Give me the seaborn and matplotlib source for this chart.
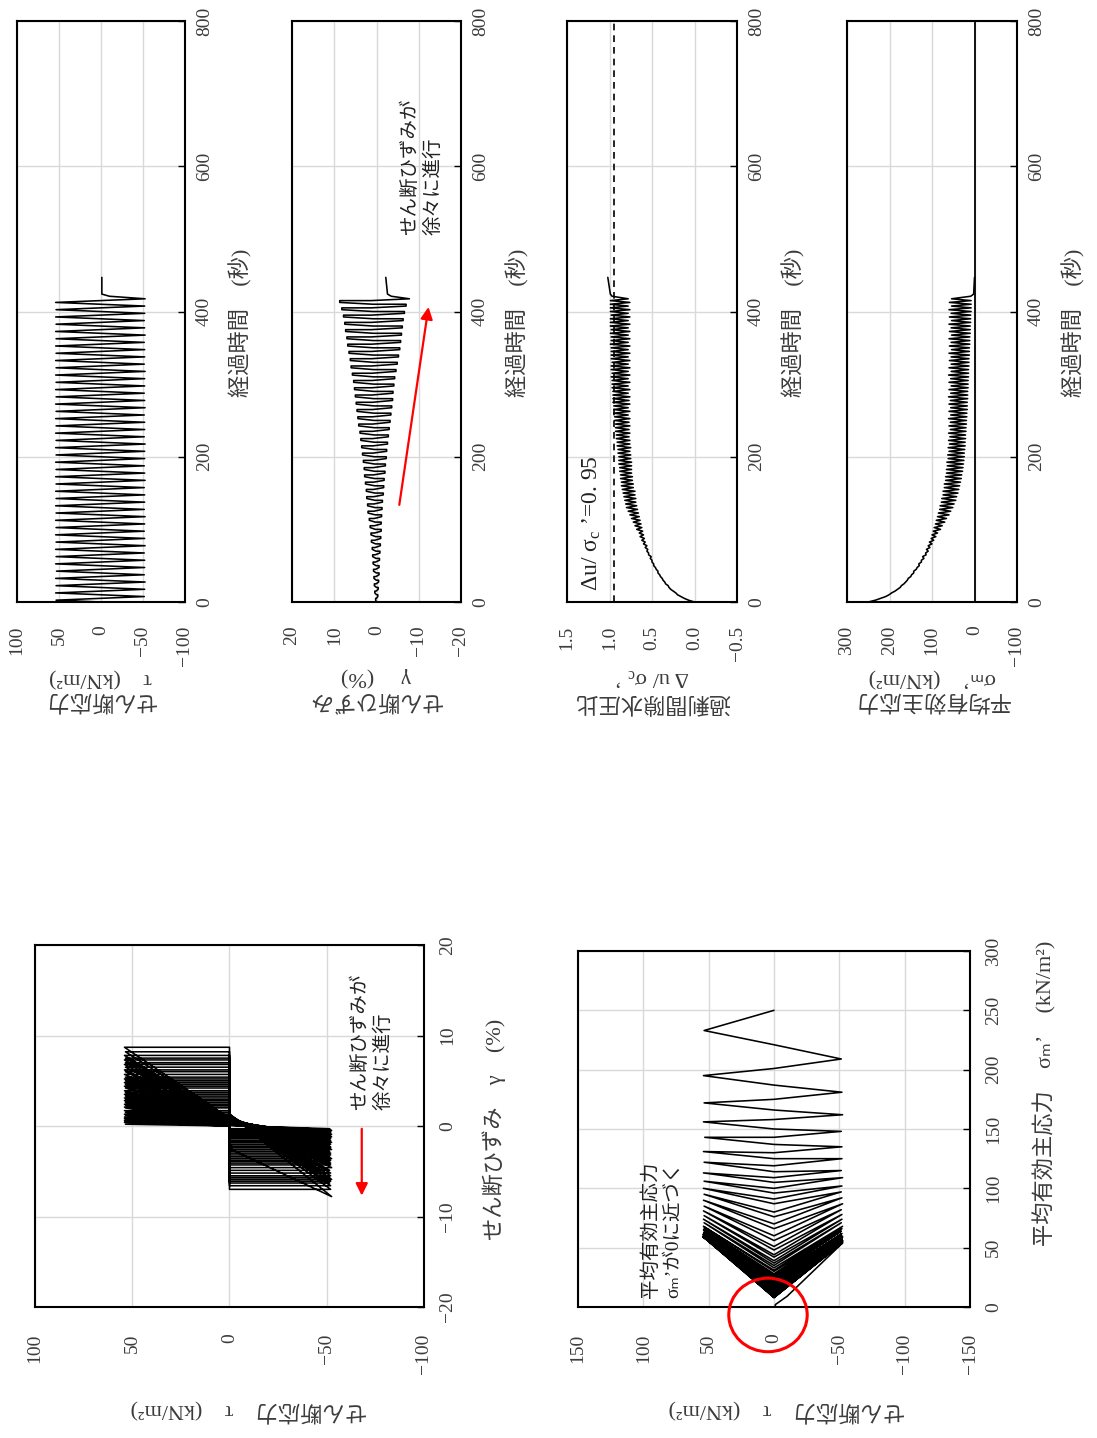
import numpy as np
import pandas as pd
import matplotlib
matplotlib.use('Agg')
import matplotlib.pyplot as plt
from matplotlib.patches import Ellipse
import seaborn as sns

# Cyclic shear test record.
# One sample at each tau = 0 crossing and one at each stress peak.
t_zero = [0, 5, 10, 15, 20, 25, 30, 35, 40, 45,
          50, 55, 60, 65, 70, 75, 80, 85, 90, 95,
          100, 105, 110, 115, 120, 125, 130, 135, 140, 145,
          150, 155, 160, 165, 170, 175, 180, 185, 190, 195,
          200, 205, 210, 215, 220, 225, 230, 235, 240, 245,
          250, 255, 260, 265, 270, 275, 280, 285, 290, 295,
          300, 305, 310, 315, 320, 325, 330, 335, 340, 345,
          350, 355, 360, 365, 370, 375, 380, 385, 390, 395,
          400, 405, 410, 415]
t_peak = [2.5, 7.5, 12.5, 17.5, 22.5, 27.5, 32.5, 37.5, 42.5, 47.5,
          52.5, 57.5, 62.5, 67.5, 72.5, 77.5, 82.5, 87.5, 92.5, 97.5,
          102.5, 107.5, 112.5, 117.5, 122.5, 127.5, 132.5, 137.5, 142.5, 147.5,
          152.5, 157.5, 162.5, 167.5, 172.5, 177.5, 182.5, 187.5, 192.5, 197.5,
          202.5, 207.5, 212.5, 217.5, 222.5, 227.5, 232.5, 237.5, 242.5, 247.5,
          252.5, 257.5, 262.5, 267.5, 272.5, 277.5, 282.5, 287.5, 292.5, 297.5,
          302.5, 307.5, 312.5, 317.5, 322.5, 327.5, 332.5, 337.5, 342.5, 347.5,
          352.5, 357.5, 362.5, 367.5, 372.5, 377.5, 382.5, 387.5, 392.5, 397.5,
          402.5, 407.5, 412.5, 417.5]

# shear stress at the peaks (kN/m2)
tau_peak = [53.5, -51.5, 54.0, -52.0, 53.5, -52.5, 54.0, -51.5, 53.0, -52.0,
            54.0, -52.0, 53.5, -51.5, 54.0, -52.5, 53.5, -52.0, 54.0, -51.5,
            53.5, -52.0, 54.0, -52.5, 53.5, -51.5, 54.0, -52.0, 53.5, -52.0,
            54.0, -51.5, 53.5, -52.5, 54.0, -52.0, 53.5, -51.5, 54.0, -52.0,
            53.5, -52.0, 54.0, -52.5, 53.5, -51.5, 54.0, -52.0, 53.5, -52.0,
            54.0, -51.5, 53.5, -52.5, 54.0, -52.0, 53.5, -51.5, 54.0, -52.0,
            53.5, -52.0, 54.0, -52.5, 53.5, -51.5, 54.0, -52.0, 53.5, -52.0,
            54.0, -51.5, 53.5, -52.5, 54.0, -52.0, 53.5, -51.5, 54.0, -52.0,
            53.5, -52.0, 54.0, -52.5]
# shear strain at the peaks (%)
gam_peak = [0.2, -0.3, 0.4, -0.4, 0.5, -0.5, 0.6, -0.6, 0.7, -0.6,
            0.8, -0.7, 0.9, -0.8, 1.0, -0.9, 1.2, -1.0, 1.3, -1.1,
            1.5, -1.1, 1.7, -1.2, 2.0, -1.3, 2.1, -1.4, 2.3, -1.6,
            2.4, -1.7, 2.6, -1.8, 2.8, -2.0, 2.9, -2.1, 3.1, -2.3,
            3.3, -2.4, 3.5, -2.6, 3.7, -2.8, 3.9, -3.0, 4.2, -3.2,
            4.4, -3.4, 4.6, -3.6, 4.8, -3.8, 5.0, -3.9, 5.2, -4.1,
            5.4, -4.3, 5.7, -4.6, 6.0, -4.9, 6.2, -5.2, 6.5, -5.5,
            6.8, -5.7, 7.0, -5.9, 7.3, -6.1, 7.5, -6.3, 7.8, -6.6,
            8.2, -7.0, 8.7, -7.8]
# mean effective stress at the peaks (kN/m2)
sm_peak = [233, 209, 195, 181, 172, 162, 156, 148, 143, 135,
           131, 125, 122, 115, 113, 109, 106, 102, 100, 97,
           95, 92, 90, 87, 85, 82, 81, 78, 77, 74,
           74, 71, 71, 68, 68, 66, 66, 64, 65, 62,
           63, 60, 62, 59, 61, 58, 61, 57, 60, 57,
           61, 56, 60, 56, 60, 57, 61, 56, 60, 55,
           60, 56, 61, 55, 60, 55, 59, 55, 60, 54,
           59, 55, 60, 54, 59, 55, 60, 54, 59, 55,
           60, 54, 59, 54]
# excess pore pressure ratio at the peaks
du_peak = [0.07, 0.16, 0.22, 0.28, 0.31, 0.35, 0.38, 0.41, 0.43, 0.46,
           0.48, 0.50, 0.51, 0.54, 0.55, 0.56, 0.58, 0.59, 0.60, 0.61,
           0.62, 0.63, 0.64, 0.65, 0.66, 0.67, 0.68, 0.69, 0.69, 0.70,
           0.70, 0.72, 0.72, 0.73, 0.73, 0.74, 0.74, 0.74, 0.74, 0.75,
           0.75, 0.76, 0.75, 0.76, 0.76, 0.77, 0.76, 0.77, 0.76, 0.77,
           0.76, 0.78, 0.76, 0.78, 0.76, 0.77, 0.76, 0.78, 0.76, 0.78,
           0.76, 0.78, 0.76, 0.78, 0.76, 0.78, 0.76, 0.78, 0.76, 0.78,
           0.76, 0.78, 0.76, 0.78, 0.76, 0.78, 0.76, 0.78, 0.76, 0.78,
           0.76, 0.78, 0.76, 0.78]
# values at the tau = 0 crossings
gam_zero = [0.0, 0.05, 0.0, 0.1, 0.0, 0.1, 0.05, 0.15, 0.05, 0.2,
            0.1, 0.25, 0.1, 0.3, 0.15, 0.35, 0.2, 0.4, 0.2, 0.45,
            0.25, 0.5, 0.3, 0.55, 0.3, 0.6, 0.35, 0.6, 0.35, 0.65,
            0.4, 0.7, 0.4, 0.7, 0.45, 0.75, 0.45, 0.8, 0.5, 0.8,
            0.5, 0.85, 0.5, 0.85, 0.55, 0.9, 0.55, 0.9, 0.55, 0.95,
            0.6, 0.95, 0.6, 1.0, 0.6, 1.0, 0.65, 1.05, 0.65, 1.05,
            0.65, 1.1, 0.7, 1.1, 0.7, 1.15, 0.7, 1.15, 0.75, 1.2,
            0.75, 1.2, 0.75, 1.2, 0.8, 1.25, 0.8, 1.25, 0.8, 1.3,
            0.85, 1.3, 0.85, 1.3]
sm_zero = [250, 221, 201, 187, 175, 166, 158, 150, 143, 137,
           130, 125, 119, 114, 109, 105, 100, 96, 91, 87,
           80, 76, 70, 66, 60, 56, 51, 48, 44, 42,
           39, 37, 35, 33, 31, 30, 28, 27, 26, 25,
           24, 24, 23, 22, 22, 21, 21, 20, 20, 19,
           19, 18, 18, 17, 17, 17, 16, 16, 16, 15,
           15, 15, 14, 14, 14, 13, 13, 13, 12, 12,
           12, 11, 11, 11, 10, 10, 10, 9, 9, 9,
           8, 8, 8, 8]
du_zero = [0.00, 0.12, 0.20, 0.25, 0.30, 0.34, 0.37, 0.40, 0.43, 0.45,
           0.48, 0.50, 0.52, 0.54, 0.56, 0.58, 0.60, 0.62, 0.64, 0.65,
           0.68, 0.70, 0.72, 0.74, 0.76, 0.78, 0.80, 0.81, 0.82, 0.83,
           0.84, 0.85, 0.86, 0.86, 0.87, 0.87, 0.88, 0.88, 0.89, 0.89,
           0.89, 0.90, 0.90, 0.91, 0.91, 0.92, 0.92, 0.93, 0.93, 0.93,
           0.94, 0.94, 0.95, 0.95, 0.95, 0.96, 0.96, 0.96, 0.96, 0.97,
           0.97, 0.97, 0.98, 0.97, 0.98, 0.98, 0.97, 0.98, 0.98, 0.98,
           0.98, 0.99, 0.98, 0.98, 0.99, 0.98, 0.99, 0.99, 0.99, 0.98,
           0.99, 0.99, 0.99, 0.99]
# after the last loading cycle
t_tail = [421, 424, 447]
tau_tail = [-10, -1, -1]
gam_tail = [-3.5, -2.6, -2.2]
sm_tail = [9, 2, 0]
du_tail = [0.97, 0.99, 1.02]

# tick values / labels
time_ticks = [0, 200, 400, 600, 800]
tau_ticks = [100, 50, 0, -50, -100]
gam_ticks = [20, 10, 0, -10, -20]
du_ticks = [1.5, 1.0, 0.5, 0.0, -0.5]
du_labels = ['1.5', '1.0', '0.5', '0.0', '\u22120.5']
sm_ticks = [300, 200, 100, 0, -100]
ss_tau_ticks = [100, 50, 0, -50, -100]
ss_gam_ticks = [-20, -10, 0, 10, 20]
sp_tau_ticks = [150, 100, 50, 0, -50, -100, -150]
sp_sm_ticks = [0, 50, 100, 150, 200, 250, 300]

# build the record in time order
rows = []
for k in range(len(t_peak)):
    if k > 0:
        # strain stays at the previous peak while the stress unloads
        rows.append((t_zero[k], 0.0, gam_peak[k - 1], sm_zero[k], du_zero[k]))
    rows.append((t_zero[k], 0.0, gam_zero[k], sm_zero[k], du_zero[k]))
    rows.append((t_peak[k], tau_peak[k], gam_peak[k], sm_peak[k], du_peak[k]))
for row in zip(t_tail, tau_tail, gam_tail, sm_tail, du_tail):
    rows.append(row)
rec = pd.DataFrame(rows, columns=['t', 'tau', 'gam', 'sm', 'du'])

sns.set_style('white')
plt.rcParams['font.family'] = ['Liberation Serif', 'Noto Sans CJK JP', 'DejaVu Sans']
plt.rcParams['mathtext.fontset'] = 'custom'
plt.rcParams['mathtext.rm'] = 'Liberation Serif'
plt.rcParams['mathtext.it'] = 'Liberation Serif:italic'

TXT = '#3c3c3c'
LW = 1.15
W, H = 1097, 1438
fig = plt.figure(figsize=(W / 100, H / 100), dpi=100)


def add_box(x0, x1, y0, y1):
    # pixel box of the page -> figure fraction
    return fig.add_axes([x0 / W, 1 - y1 / H, (x1 - x0) / W, (y1 - y0) / H])


def style(ax, xticks, xlabels, yticks, ylabels, xpad, ypad):
    for s in ax.spines.values():
        s.set_visible(True)
        s.set_color('black')
        s.set_linewidth(1.5)
    ax.set_xticks(xticks)
    ax.set_xticklabels(xlabels)
    ax.set_yticks(yticks)
    ax.set_yticklabels(ylabels)
    ax.yaxis.tick_right()
    ax.grid(True, color='#d9d9d9', lw=1.0)
    ax.set_axisbelow(True)
    ax.tick_params(direction='in', length=5, width=1, color='black',
                   labelcolor=TXT, labelsize=14)
    ax.tick_params(axis='x', labelrotation=90, pad=xpad)
    ax.tick_params(axis='y', labelrotation=90, pad=ypad)
    for lab in ax.get_yticklabels():
        lab.set_va('center')
    ax.set_xlabel('')
    ax.set_ylabel('')


def fmt(v):
    return f'{v:g}'.replace('-', '\u2212')


# ---- time histories (page is turned: value across, time upward) ----
ts = [
    ('tau', (17, 185), (100, -100), tau_ticks, [fmt(v) for v in tau_ticks],
     'せん断応力\nτ　(kN/m²)'),
    ('gam', (292, 461), (20, -20), gam_ticks, [fmt(v) for v in gam_ticks],
     'せん断ひずみ\nγ　 (%)'),
    ('du', (567, 737), (1.5, -0.5), du_ticks, du_labels,
     '過剰間隙水圧比\nΔ u/ σ$_\\mathregular{c}$ ’'),
    ('sm', (847, 1017), (300, -100), sm_ticks, [fmt(v) for v in sm_ticks],
     '平均有効主応力\nσₘ’　(kN/m²)'),
]
ts_axes = {}
for col, (x0, x1), lim, ticks, labels, name in ts:
    ax = add_box(x0, x1, 21, 602)
    sns.lineplot(data=rec, x=col, y='t', sort=False, estimator=None,
                 color='black', lw=LW, ax=ax, legend=False)
    ax.set_xlim(*lim)
    ax.set_ylim(0, 800)
    style(ax, ticks, labels, time_ticks, [fmt(v) for v in time_ticks], 17, 8)
    ax.text(0.5, -0.112, name, rotation=180, ha='center', va='top',
            transform=ax.transAxes, fontsize=16, color=TXT, linespacing=1.15)
    ax.text(1.335, 0.48, '経過時間　(秒)', rotation=90, ha='center',
            va='center', transform=ax.transAxes, fontsize=16, color=TXT)
    ts_axes[col] = ax

ax = ts_axes['gam']
ax.annotate('', xy=(-12.4, 410), xytext=(-5.3, 130),
            arrowprops=dict(arrowstyle='-|>', color='red', lw=1.6,
                            mutation_scale=18))
ax.text(-10.6, 506, 'せん断ひずみが\n徐々に進行', rotation=90, ha='center',
        va='bottom', multialignment='left', fontsize=14, color='#222222',
        linespacing=1.3)

ax = ts_axes['du']
ax.axvline(0.95, color='black', lw=1.2, ls=(0, (4, 3)))
ax.text(1.21, 15, 'Δu/ σ$_\\mathregular{c}$ ’=0. 95', rotation=90, ha='center',
        va='bottom', fontsize=17, color='#222222')

ax = ts_axes['sm']
ax.axvline(0, color='black', lw=1.3)

# ---- stress-strain loops ----
ax = add_box(35, 424, 945, 1307)
sns.lineplot(data=rec, x='tau', y='gam', sort=False, estimator=None,
             color='black', lw=LW, ax=ax, legend=False)
ax.set_xlim(100, -100)
ax.set_ylim(-20, 20)
style(ax, ss_tau_ticks, [fmt(v) for v in ss_tau_ticks],
      ss_gam_ticks, [fmt(v) for v in ss_gam_ticks], 19, 11)
ax.text(0.55, -0.285, 'せん断応力　τ　(kN/m²)', rotation=180, ha='center',
        va='center', transform=ax.transAxes, fontsize=16, color=TXT)
ax.text(1.18, 0.49, 'せん断ひずみ　γ　(%)', rotation=90, ha='center',
        va='center', transform=ax.transAxes, fontsize=16, color=TXT)
ax.annotate('', xy=(-68, -8.0), xytext=(-68, 0),
            arrowprops=dict(arrowstyle='-|>', color='red', lw=1.6,
                            mutation_scale=18))
ax.text(-73, 1.8, 'せん断ひずみが\n徐々に進行', rotation=90, ha='center',
        va='bottom', multialignment='left', fontsize=14, color='#222222',
        linespacing=1.3)

# ---- effective stress path ----
ax = add_box(578, 970, 951, 1307)
sns.lineplot(data=rec, x='tau', y='sm', sort=False, estimator=None,
             color='black', lw=LW, ax=ax, legend=False)
ax.set_xlim(150, -150)
ax.set_ylim(0, 300)
style(ax, sp_tau_ticks, [fmt(v) for v in sp_tau_ticks],
      sp_sm_ticks, [fmt(v) for v in sp_sm_ticks], 19, 11)
ax.text(0.533, -0.29, 'せん断応力　τ　(kN/m²)', rotation=180, ha='center',
        va='center', transform=ax.transAxes, fontsize=16, color=TXT)
ax.text(1.19, 0.6, '平均有効主応力　σₘ’　(kN/m²)', rotation=90, ha='center',
        va='center', transform=ax.transAxes, fontsize=16, color=TXT)
ax.text(86, 7.6, '平均有効主応力\nσₘ’が0に近づく', rotation=90, ha='center',
        va='bottom', multialignment='left', fontsize=14, color='#222222',
        linespacing=1.3)
ax.add_patch(Ellipse((4.6, -6.7), width=60, height=62, fill=False,
                     ec='red', lw=2.2, clip_on=False, zorder=10))

fig.savefig('out.png', dpi=100)
